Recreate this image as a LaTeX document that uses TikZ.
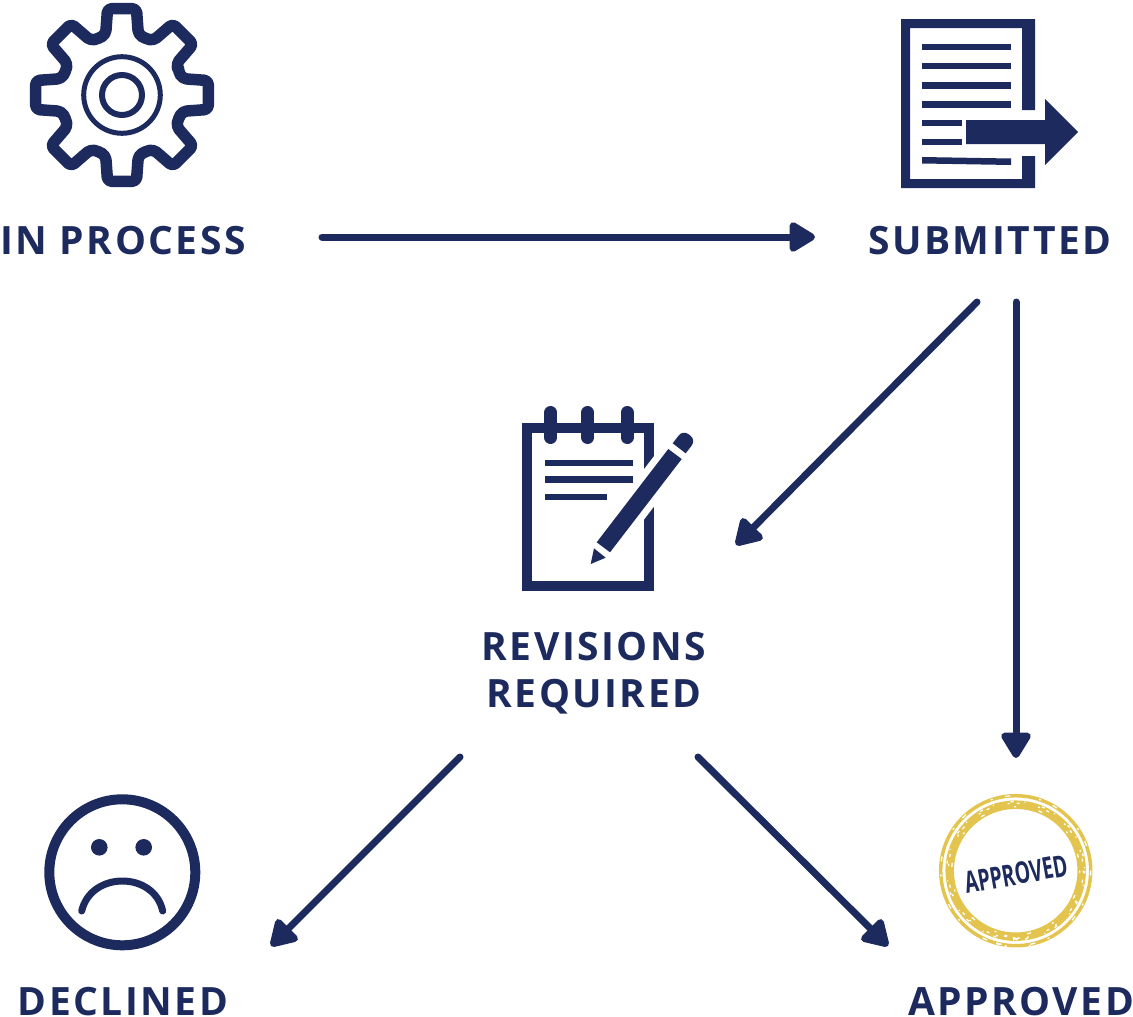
\documentclass[tikz,border=0pt]{standalone}
\usepackage{fontspec}
\usetikzlibrary{arrows.meta}
\setmainfont{Open Sans}
\newfontfamily\labelfont[LetterSpace=6.4]{Open Sans Bold}
\newfontfamily\stampfont[FakeStretch=0.65]{Open Sans Bold}
\definecolor{navy}{HTML}{1C2A5E}
\definecolor{stampgold}{HTML}{E3C44F}

\begin{document}
\begin{tikzpicture}[x=1pt,y=-1pt]
              \useasboundingbox (0,0) rectangle (1133,1017);
              \tikzstyle{every node}=[inner sep=0pt,text=navy];
              \tikzstyle{status}=[anchor=base,font=\labelfont\fontsize{39}{47}\selectfont,align=center];
              \tikzstyle{flow}=[draw=navy,line width=7pt,line cap=round,-{Triangle[round,length=29pt,width=33pt]}];
              \tikzstyle{icon}=[draw=navy,line join=round];
              \tikzstyle{solid}=[fill=navy];
              \tikzstyle{speck}=[draw=white,line width=1.3pt];

                % labels
                \node[status] (inprocess) at (123,254) {IN PROCESS};
                \node[status] (submitted) at (990,254) {SUBMITTED};
                \node[status,anchor=center] (revisions) at (594,673) {REVISIONS\\REQUIRED};
                \node[status] (declined) at (123,1015) {DECLINED};
                \node[status] (approved) at (1021,1015) {APPROVED};

                % gear
                \path[icon,line width=11.5pt,rounded corners=4pt]
                  ({122+61*cos(-22.5)},{95+61*sin(-22.5)})
                  \foreach \a in {0,45,...,315} {
                    -- ({122+63*cos(\a-15)},{95+63*sin(\a-15)})
                    -- ({122+87.5*cos(\a-9.5)},{95+87.5*sin(\a-9.5)})
                    -- ({122+87.5*cos(\a+9.5)},{95+87.5*sin(\a+9.5)})
                    -- ({122+63*cos(\a+15)},{95+63*sin(\a+15)})
                    -- ({122+61*cos(\a+22.5)},{95+61*sin(\a+22.5)})
                  } -- cycle;
                \draw[icon,line width=5pt] (122,95) circle (38.3);
                \draw[icon,line width=6pt] (122,95) circle (20);

                % document
                \path[solid] (901,19) -- (1035,19) -- (1035,110) -- (1022,110) -- (1022,28) -- (910,28)
                  -- (910,179) -- (1022,179) -- (1022,156) -- (1035,156) -- (1035,188) -- (901,188) -- cycle;
                \foreach \y in {43.5,62.5,82,101}
                  \path[solid] (922,\y) rectangle (1011,\y+6.5);
                \foreach \y in {119.5,138.5}
                  \path[solid] (922,\y) rectangle (961.5,\y+6.5);
                \path[solid] (922,157) -- (1011,158.5) -- (1011,165) -- (922,163.5) -- cycle;
                \path[solid] (966,120) -- (1045,120) -- (1045,99) -- (1078,132) -- (1045,165) -- (1045,144) -- (966,144) -- cycle;

                % notepad
                \draw[icon,line width=10pt,line join=miter] (527,427.5) rectangle (649,585.5);
                \foreach \x in {550.7,587.7,627}
                  \draw[navy,line width=13pt,line cap=round] (\x,412.5) -- (\x,437.5);
                \path[solid] (545,459.5) rectangle (632.7,466);
                \path[solid] (545,476) rectangle (632.7,482.5);
                \path[solid] (545,493.5) rectangle (607.3,500);
                \draw[white,line width=14pt,fill=white] (668.3,449) -- (681.7,459) -- (610,552.3) -- (596.7,542.3) -- cycle;
                \path[solid] (668.3,449) -- (681.7,459) -- (610,552.3) -- (596.7,542.3) -- cycle;
                \path[solid] (672.7,443.3) [rounded corners=7pt] -- (683,429.9) -- (696,440) [sharp corners] -- (685.7,453.3) -- cycle;
                \path[solid] (594,548.3) -- (605.7,557.7) -- (590.7,564) -- cycle;

                % sad face
                \draw[icon,line width=10pt] (122.3,872.3) circle (73);
                \foreach \x in {99.3,143.7}
                  \path[solid] (\x,847.3) circle (8.3);
                \draw[icon,line width=7pt,line cap=round] (81.7,911) .. controls (91,871) and (154,871) .. (162.7,911);

                % stamp
                \draw[stampgold,line width=3.5pt] (1015.7,870.7) circle (75);
                \draw[stampgold,line width=8.5pt] (1015.7,870.7) circle (66);
                \draw[speck,dash pattern=on 3pt off 11pt on 1pt off 17pt] (1015.7,870.7) circle (69);
                \draw[speck,dash pattern=on 2pt off 23pt on 4pt off 31pt] (1015.7,870.7) circle (64);
                \draw[speck,dash pattern=on 5pt off 29pt on 2pt off 13pt] (1015.7,870.7) circle (75);
                \draw[speck,dash pattern=on 2pt off 7pt on 3pt off 19pt] (1015.7,870.7) circle (67.5);
                \draw[speck,line width=2pt,dash pattern=on 4pt off 5pt on 2pt off 9pt] (1015.7,870.7) ++(105:75) arc (105:175:-75);
                \draw[speck,line width=2pt,dash pattern=on 3pt off 6pt on 5pt off 4pt] (1015.7,870.7) ++(100:66) arc (100:165:-66);
                \node[rotate=10,font=\stampfont\fontsize{30}{30}\selectfont] (stamp) at (1016,874) {APPROVED};

                % connectors
                \coordinate (inprocessout) at (322,237);
                \coordinate (submittedin) at (815,237);
                \coordinate (submittedleft) at (977,302);
                \coordinate (submittedright) at (1016,302);
                \coordinate (revisionsin) at (736,545);
                \coordinate (stampin) at (1016,758);
                \coordinate (revisionsleft) at (460,757);
                \coordinate (revisionsright) at (698,757);
                \coordinate (declinedin) at (271,946);
                \coordinate (approvedin) at (888,946);

                \path[flow] (inprocessout) -- (submittedin);
                \path[flow] (submittedleft) -- (revisionsin);
                \path[flow] (submittedright) -- (stampin);
                \path[flow] (revisionsleft) -- (declinedin);
                \path[flow] (revisionsright) -- (approvedin);
            \end{tikzpicture}
\end{document}
